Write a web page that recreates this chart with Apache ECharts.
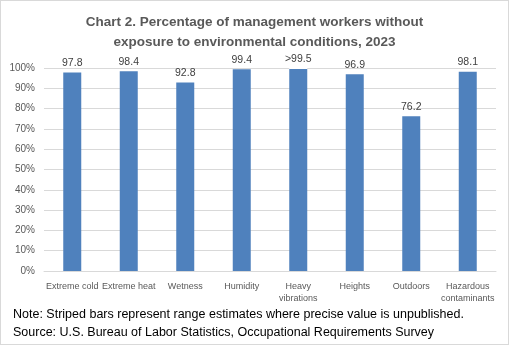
<!DOCTYPE html>
<html><head><meta charset="utf-8">
<script src="https://cdn.jsdelivr.net/npm/echarts@6/dist/echarts.min.js"></script>
<style>html,body{margin:0;padding:0;background:#fff;}#c{width:509px;height:345px;box-sizing:border-box;border:1px solid #d9d9d9;}</style>
</head><body><div id="c"></div>
<script>
const categories = ['Extreme cold','Extreme heat','Wetness','Humidity','Heavy\nvibrations','Heights','Outdoors','Hazardous\ncontaminants'];
const values = [97.8, 98.4, 92.8, 99.4, 99.5, 96.9, 76.2, 98.1];
const rangeTop = [null, null, null, null, 0.5, null, null, null];
const valueLabels = ['97.8','98.4','92.8','99.4','>99.5','96.9','76.2','98.1'];
const yTicks = [0,10,20,30,40,50,60,70,80,90,100];

const chart = echarts.init(document.getElementById('c'), null, {renderer:'canvas'});
const FONT = 'Liberation Sans';
chart.setOption({
  animation:false,
  title:{
    text:'Chart 2. Percentage of management workers without\nexposure to environmental conditions, 2023',
    left:'center', top:6,
    textStyle:{fontFamily:FONT, fontWeight:'bold', fontSize:13.5, color:'#595959', lineHeight:20}
  },
  grid:{left:43, right:12, top:67, bottom:73},
  xAxis:{
    type:'category', data:categories,
    axisLine:{lineStyle:{color:'#d9d9d9'}},
    axisTick:{show:false},
    axisLabel:{fontFamily:FONT, fontSize:9, color:'#595959', interval:0, lineHeight:12, margin:10}
  },
  yAxis:{
    type:'value', min:0, max:100, interval:10,
    axisLabel:{fontFamily:FONT, fontSize:10, color:'#595959', formatter:v=>v+'%', margin:9},
    splitLine:{lineStyle:{color:'#d9d9d9'}},
    axisLine:{show:false}, axisTick:{show:false}
  },
  series:[
    {type:'bar', stack:'a', data:values, barWidth:18,
     itemStyle:{color:'#4F81BD'},
     label:{show:true, position:'top', distance:4, fontFamily:FONT, fontSize:10.5, color:'#404040',
       formatter:p=> rangeTop[p.dataIndex]!=null ? '' : valueLabels[p.dataIndex]}},
    {type:'bar', stack:'a', data:rangeTop, barWidth:18,
     itemStyle:{color:'#ffffff', decal:{symbol:'rect', dashArrayX:[1,0], dashArrayY:[1,1], rotation:0, color:'#4F81BD'}, borderColor:'#4F81BD', borderWidth:0},
     label:{show:true, position:'top', distance:3, fontFamily:FONT, fontSize:10.5, color:'#404040',
       formatter:p=> valueLabels[p.dataIndex]}}
  ],
  aria:{enabled:false},
  graphic:[
    {type:'text', left:12, top:307, style:{text:'Note: Striped bars represent range estimates where precise value is unpublished.', font:'12.5px "'+FONT+'"', fill:'#000'}},
    {type:'text', left:12, top:325, style:{text:'Source: U.S. Bureau of Labor Statistics, Occupational Requirements Survey', font:'12.5px "'+FONT+'"', fill:'#000'}}
  ]
});
</script></body></html>
